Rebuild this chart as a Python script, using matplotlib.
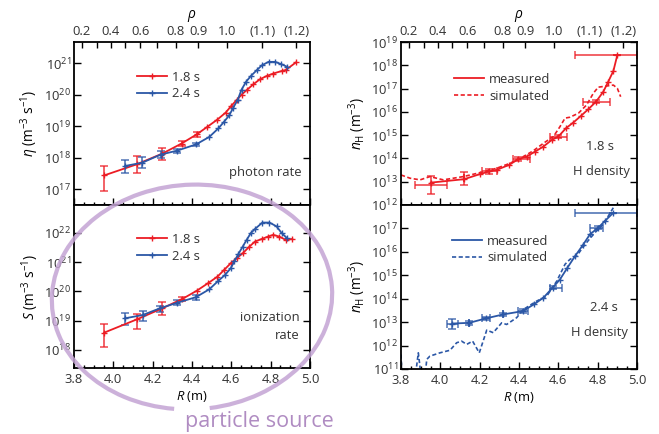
import numpy as np
import matplotlib
matplotlib.use("Agg")
import matplotlib.pyplot as plt
from matplotlib.patches import Arc
from matplotlib.ticker import LogLocator, NullLocator, MultipleLocator, LogFormatterSciNotation

plt.rcParams['font.family'] = ['Open Sans', 'DejaVu Sans']
plt.rcParams['mathtext.fontset'] = 'custom'
plt.rcParams['mathtext.rm'] = 'Open Sans'
plt.rcParams['mathtext.it'] = 'Open Sans:italic'
plt.rcParams['text.color'] = '#333333'
plt.rcParams['xtick.labelcolor'] = '#333333'
plt.rcParams['ytick.labelcolor'] = '#333333'

FS = 9.4
RED = '#ec1c24'
BLUE = '#2b57a6'
PURPLE = '#c4a4d4'

# rho values on the top axis and the R (m) where they sit
rho_vals = [0.2, 0.3, 0.4, 0.5, 0.6, 0.7, 0.8, 0.9, 1.0, 1.1, 1.2]
rho_R = [3.840, 3.917, 3.988, 4.060, 4.138, 4.224, 4.317, 4.431, 4.579, 4.757, 4.931]
rho_labels = ['0.2', '', '0.4', '', '0.6', '', '0.8', '0.9', '1.0', '(1.1)', '(1.2)']

# photon rate eta (log10), 1.8 s and 2.4 s
eta18_R = [3.954, 4.119, 4.249, 4.347, 4.424, 4.478, 4.529, 4.571, 4.598, 4.627, 4.652,
           4.681, 4.712, 4.746, 4.779, 4.813, 4.856, 4.876, 4.928]
eta18_log = [17.44, 17.79, 18.13, 18.45, 18.74, 18.98, 19.21, 19.43, 19.63, 19.83, 20.00,
             20.16, 20.33, 20.49, 20.59, 20.67, 20.75, 20.78, 21.02]
eta24_R = [4.061, 4.146, 4.241, 4.322, 4.420, 4.488, 4.534, 4.563, 4.590, 4.610, 4.632,
           4.652, 4.675, 4.699, 4.730, 4.755, 4.789, 4.823, 4.853, 4.885]
eta24_log = [17.74, 17.84, 18.10, 18.22, 18.42, 18.66, 18.93, 19.14, 19.35, 19.59, 19.83,
             20.16, 20.41, 20.59, 20.78, 20.93, 21.04, 21.04, 20.97, 20.88]
eta18_err_R = [3.954, 4.119, 4.249, 4.347, 4.424]
eta18_err_lo = [16.94, 17.52, 17.92, 18.36, 18.66]
eta18_err_hi = [17.74, 18.05, 18.31, 18.54, 18.82]
eta24_err_R = [4.061, 4.146, 4.241, 4.322, 4.420]
eta24_err_lo = [17.50, 17.66, 18.00, 18.16, 18.36]
eta24_err_hi = [17.94, 18.01, 18.20, 18.28, 18.48]

# ionization rate S (log10)
S18_R = [3.954, 4.119, 4.249, 4.351, 4.424, 4.482, 4.529, 4.563, 4.597, 4.627, 4.658,
         4.692, 4.720, 4.755, 4.786, 4.813, 4.844, 4.876, 4.910]
S18_log = [18.59, 19.04, 19.42, 19.74, 20.02, 20.28, 20.50, 20.73, 20.96, 21.13, 21.30,
           21.53, 21.70, 21.79, 21.87, 21.93, 21.87, 21.76, 21.79]
S24_R = [4.061, 4.149, 4.237, 4.325, 4.420, 4.488, 4.534, 4.568, 4.597, 4.615, 4.636,
         4.658, 4.678, 4.699, 4.720, 4.758, 4.794, 4.830, 4.856, 4.883]
S24_log = [19.08, 19.19, 19.42, 19.61, 19.80, 20.07, 20.36, 20.56, 20.79, 21.02, 21.28,
           21.53, 21.76, 21.99, 22.13, 22.35, 22.35, 22.22, 21.99, 21.82]
S18_err_R = [3.954, 4.119, 4.249, 4.351]
S18_err_lo = [18.11, 18.70, 19.19, 19.66]
S18_err_hi = [18.88, 19.23, 19.65, 19.82]
S24_err_R = [4.061, 4.149, 4.237, 4.325, 4.420]
S24_err_lo = [18.85, 19.00, 19.30, 19.52, 19.71]
S24_err_hi = [19.27, 19.34, 19.50, 19.70, 19.89]

# H density 1.8 s (log10)
nH18_R = [3.951, 4.122, 4.202, 4.249, 4.287, 4.349, 4.397, 4.439, 4.481, 4.524, 4.566,
          4.600, 4.639, 4.676, 4.714, 4.752, 4.792, 4.829, 4.854, 4.880, 4.900]
nH18_log = [12.96, 13.11, 13.33, 13.44, 13.51, 13.72, 13.97, 14.08, 14.29, 14.51, 14.79,
            14.94, 15.30, 15.54, 15.82, 16.11, 16.44, 16.87, 17.30, 17.76, 18.44]
nH18_sim_R = [3.800, 3.846, 3.897, 3.947, 4.015, 4.117, 4.202, 4.287, 4.354, 4.422, 4.473,
              4.524, 4.575, 4.608, 4.634, 4.659, 4.702, 4.744, 4.778, 4.803, 4.846, 4.880,
              4.900, 4.917]
nH18_sim_log = [13.29, 13.15, 13.08, 13.22, 13.08, 13.22, 13.39, 13.58, 13.79, 14.08, 14.33,
                14.65, 14.94, 15.36, 15.73, 15.77, 15.94, 16.30, 16.80, 17.06, 17.11, 17.15,
                17.01, 16.65]
nH18_err_R = [3.951, 4.122, 4.249, 4.397, 4.600, 4.792, 4.900]
nH18_err_lo = [12.46, 12.86, 13.34, 13.90, 14.88, 16.38, 18.44]
nH18_err_hi = [13.25, 13.43, 13.54, 14.04, 15.00, 16.50, 18.44]
nH18_xerr_lo = [3.871, 4.122, 4.210, 4.371, 4.558, 4.727, 4.685]
nH18_xerr_hi = [4.032, 4.122, 4.287, 4.456, 4.643, 4.863, 5.000]

# H density 2.4 s (log10)
nH24_R = [4.061, 4.147, 4.232, 4.320, 4.419, 4.476, 4.524, 4.571, 4.608, 4.646, 4.685,
          4.724, 4.761, 4.803, 4.837, 4.876]
nH24_log = [12.94, 12.97, 13.16, 13.33, 13.47, 13.76, 14.04, 14.47, 14.82, 15.32, 15.82,
            16.28, 16.75, 17.03, 17.32, 17.64]
nH24_sim_R = [3.800, 3.805, 3.870, 3.888, 3.905, 3.920, 3.931, 3.947, 3.998, 4.049, 4.083,
              4.108, 4.134, 4.164, 4.198, 4.236, 4.269, 4.312, 4.337, 4.388, 4.422, 4.490,
              4.541, 4.592, 4.634, 4.659, 4.693, 4.736, 4.786, 4.829, 4.880]
nH24_sim_log = [11.62, 10.5, 10.5, 11.69, 10.5, 10.5, 11.41, 11.55, 11.69, 11.80, 12.12,
                12.19, 12.05, 12.19, 11.69, 12.66, 12.55, 12.97, 12.90, 13.19, 13.54, 13.90,
                14.11, 14.75, 15.47, 15.68, 15.82, 16.32, 16.82, 17.18, 17.89]
nH24_err_R = [4.061, 4.147, 4.232, 4.320, 4.419, 4.571, 4.803, 4.876]
nH24_err_lo = [12.69, 12.87, 13.08, 13.25, 13.40, 14.40, 16.96, 17.64]
nH24_err_hi = [13.14, 13.07, 13.24, 13.41, 13.54, 14.54, 17.10, 17.64]
nH24_xerr_lo = [4.032, 4.147, 4.210, 4.320, 4.397, 4.558, 4.761, 4.685]
nH24_xerr_hi = [4.091, 4.147, 4.254, 4.320, 4.447, 4.617, 4.829, 5.000]

fig = plt.figure(figsize=(6.59, 4.34), dpi=100)
W, H = 659, 434


def make_ax(x0, y0, x1, y1):
    return fig.add_axes([x0 / W, 1 - y1 / H, (x1 - x0) / W, (y1 - y0) / H])


ax_eta = make_ax(74, 42, 310, 205)
ax_S = make_ax(74, 205, 310, 368)
ax_n18 = make_ax(401, 42, 637, 205)
ax_n24 = make_ax(401, 205, 637, 369)


def style(ax, ylim, bottom_labels):
    ax.set_yscale('log')
    ax.set_xlim(3.8, 5.0)
    ax.set_ylim(ylim)
    ax.xaxis.set_major_locator(MultipleLocator(0.2))
    ax.xaxis.set_minor_locator(MultipleLocator(0.05))
    ax.yaxis.set_major_locator(LogLocator(base=10, numticks=20))
    ax.yaxis.set_minor_locator(NullLocator())
    ax.yaxis.set_major_formatter(LogFormatterSciNotation())
    ax.tick_params(which='both', direction='in', right=True, width=1.0, labelsize=FS)
    ax.tick_params(which='major', length=5)
    ax.tick_params(which='minor', length=2.5)
    ax.tick_params(axis='x', labelbottom=bottom_labels, top=not bottom_labels)
    ax.tick_params(axis='y', pad=2)
    for s in ax.spines.values():
        s.set_linewidth(1.3)
    if bottom_labels:
        ax.set_xticks(np.arange(3.8, 5.01, 0.2))
        ax.set_xticklabels(['3.8', '4.0', '4.2', '4.4', '4.6', '4.8', '5.0'])
        ax.set_xlabel(r'$R$ (m)', fontsize=FS, labelpad=2)
    else:
        top = ax.twiny()
        top.set_xlim(3.8, 5.0)
        top.set_xticks(rho_R)
        top.set_xticklabels(rho_labels)
        top.xaxis.set_minor_locator(NullLocator())
        top.tick_params(direction='in', length=4, width=1.0, labelsize=FS, pad=3)
        top.set_xlabel(r'$\rho$', fontsize=FS + 0.5, labelpad=5)
        for s in top.spines.values():
            s.set_visible(False)


def series(ax, R, logv, color, label, ls='-', marker='+'):
    ax.plot(R, 10 ** np.array(logv), ls=ls, color=color, lw=1.3, marker=marker,
            ms=5, mew=1.0, label=label, zorder=3)


def yerrs(ax, R, lo, hi, color):
    lo = 10 ** np.array(lo)
    hi = 10 ** np.array(hi)
    mid = np.sqrt(lo * hi)
    ax.errorbar(R, mid, yerr=[mid - lo, hi - mid], fmt='none', ecolor=color,
                elinewidth=1.3, capsize=3, capthick=1.2, alpha=0.75, zorder=2)


def xerrs(ax, R, lo, hi, xlo, xhi, color):
    R = np.array(R)
    mid = np.sqrt(10 ** np.array(lo) * 10 ** np.array(hi))
    ax.errorbar(R, mid, xerr=[R - np.array(xlo), np.array(xhi) - R],
                fmt='none', ecolor=color, elinewidth=1.3, capsize=3, capthick=1.2,
                alpha=0.75, zorder=2)


def legend(ax, handles, labels, anchor):
    ax.legend(handles, labels, loc='upper left', bbox_to_anchor=anchor, frameon=False,
              fontsize=FS, handlelength=2.3, handletextpad=0.4, labelspacing=0.3,
              borderpad=0, borderaxespad=0)


# photon rate
style(ax_eta, (10 ** 16.5, 10 ** 21.67), False)
yerrs(ax_eta, eta18_err_R, eta18_err_lo, eta18_err_hi, RED)
yerrs(ax_eta, eta24_err_R, eta24_err_lo, eta24_err_hi, BLUE)
series(ax_eta, eta18_R, eta18_log, RED, '1.8 s')
series(ax_eta, eta24_R, eta24_log, BLUE, '2.4 s')
ax_eta.set_ylabel(r'$\eta$ (m$^{-3}$ s$^{-1}$)', fontsize=FS + 0.5, labelpad=2)
h, l = ax_eta.get_legend_handles_labels()
legend(ax_eta, h, l, (0.265, 0.825))
ax_eta.text(0.965, 0.2, 'photon rate', transform=ax_eta.transAxes, ha='right',
            va='center', fontsize=FS)

# ionization rate
style(ax_S, (10 ** 17.38, 10 ** 22.95), True)
yerrs(ax_S, S18_err_R, S18_err_lo, S18_err_hi, RED)
yerrs(ax_S, S24_err_R, S24_err_lo, S24_err_hi, BLUE)
series(ax_S, S18_R, S18_log, RED, '1.8 s')
series(ax_S, S24_R, S24_log, BLUE, '2.4 s')
ax_S.set_ylabel(r'$S$ (m$^{-3}$ s$^{-1}$)', fontsize=FS + 0.5, labelpad=2)
h, l = ax_S.get_legend_handles_labels()
legend(ax_S, h, l, (0.265, 0.83))
ax_S.text(0.955, 0.255, 'ionization\nrate', transform=ax_S.transAxes, ha='right',
          va='center', fontsize=FS, multialignment='right', linespacing=1.5)

# H density 1.8 s
style(ax_n18, (1e12, 1e19), False)
xerrs(ax_n18, nH18_err_R, nH18_err_lo, nH18_err_hi, nH18_xerr_lo, nH18_xerr_hi, RED)
yerrs(ax_n18, nH18_err_R, nH18_err_lo, nH18_err_hi, RED)
series(ax_n18, nH18_R, nH18_log, RED, 'measured')
ax_n18.plot(nH18_sim_R, 10 ** np.array(nH18_sim_log), ls=(0, (2.5, 1.5)), color=RED,
            lw=1.2, label='simulated')
ax_n18.set_ylabel(r'$n_{\mathrm{H}}$ (m$^{-3}$)', fontsize=FS + 0.5, labelpad=2)
h, l = ax_n18.get_legend_handles_labels()
legend(ax_n18, [plt.Line2D([], [], color=RED, lw=1.3), h[1]], l, (0.225, 0.81))
ax_n18.text(0.843, 0.356, '1.8 s', transform=ax_n18.transAxes, ha='center',
            va='center', fontsize=FS)
ax_n18.text(0.85, 0.205, 'H density', transform=ax_n18.transAxes, ha='center',
            va='center', fontsize=FS)

# H density 2.4 s
style(ax_n24, (1e11, 1e18), True)
ax_n24.set_yticks([10.0 ** k for k in range(11, 18)])
xerrs(ax_n24, nH24_err_R, nH24_err_lo, nH24_err_hi, nH24_xerr_lo, nH24_xerr_hi, BLUE)
yerrs(ax_n24, nH24_err_R, nH24_err_lo, nH24_err_hi, BLUE)
series(ax_n24, nH24_R, nH24_log, BLUE, 'measured')
ax_n24.plot(nH24_sim_R, 10 ** np.array(nH24_sim_log), ls=(0, (2.5, 1.5)), color=BLUE,
            lw=1.2, label='simulated')
ax_n24.set_ylabel(r'$n_{\mathrm{H}}$ (m$^{-3}$)', fontsize=FS + 0.5, labelpad=2)
h, l = ax_n24.get_legend_handles_labels()
legend(ax_n24, [plt.Line2D([], [], color=BLUE, lw=1.3), h[1]], l, (0.215, 0.82))
ax_n24.text(0.86, 0.374, '2.4 s', transform=ax_n24.transAxes, ha='center',
            va='center', fontsize=FS)
ax_n24.text(0.84, 0.22, 'H density', transform=ax_n24.transAxes, ha='center',
            va='center', fontsize=FS)

# hand-drawn loop around the particle source panels
loop = Arc((192 / W, 1 - 297 / H), 280 / W, 225 / H, angle=-4, theta1=280, theta2=628,
           transform=fig.transFigure, color=PURPLE, lw=3.0, alpha=0.85, zorder=10)
fig.add_artist(loop)
fig.text(185 / W, 1 - 422 / H, 'particle source', color='#b08cc2', fontsize=15.5,
         ha='left', va='center')

fig.savefig('out.png', dpi=100)
